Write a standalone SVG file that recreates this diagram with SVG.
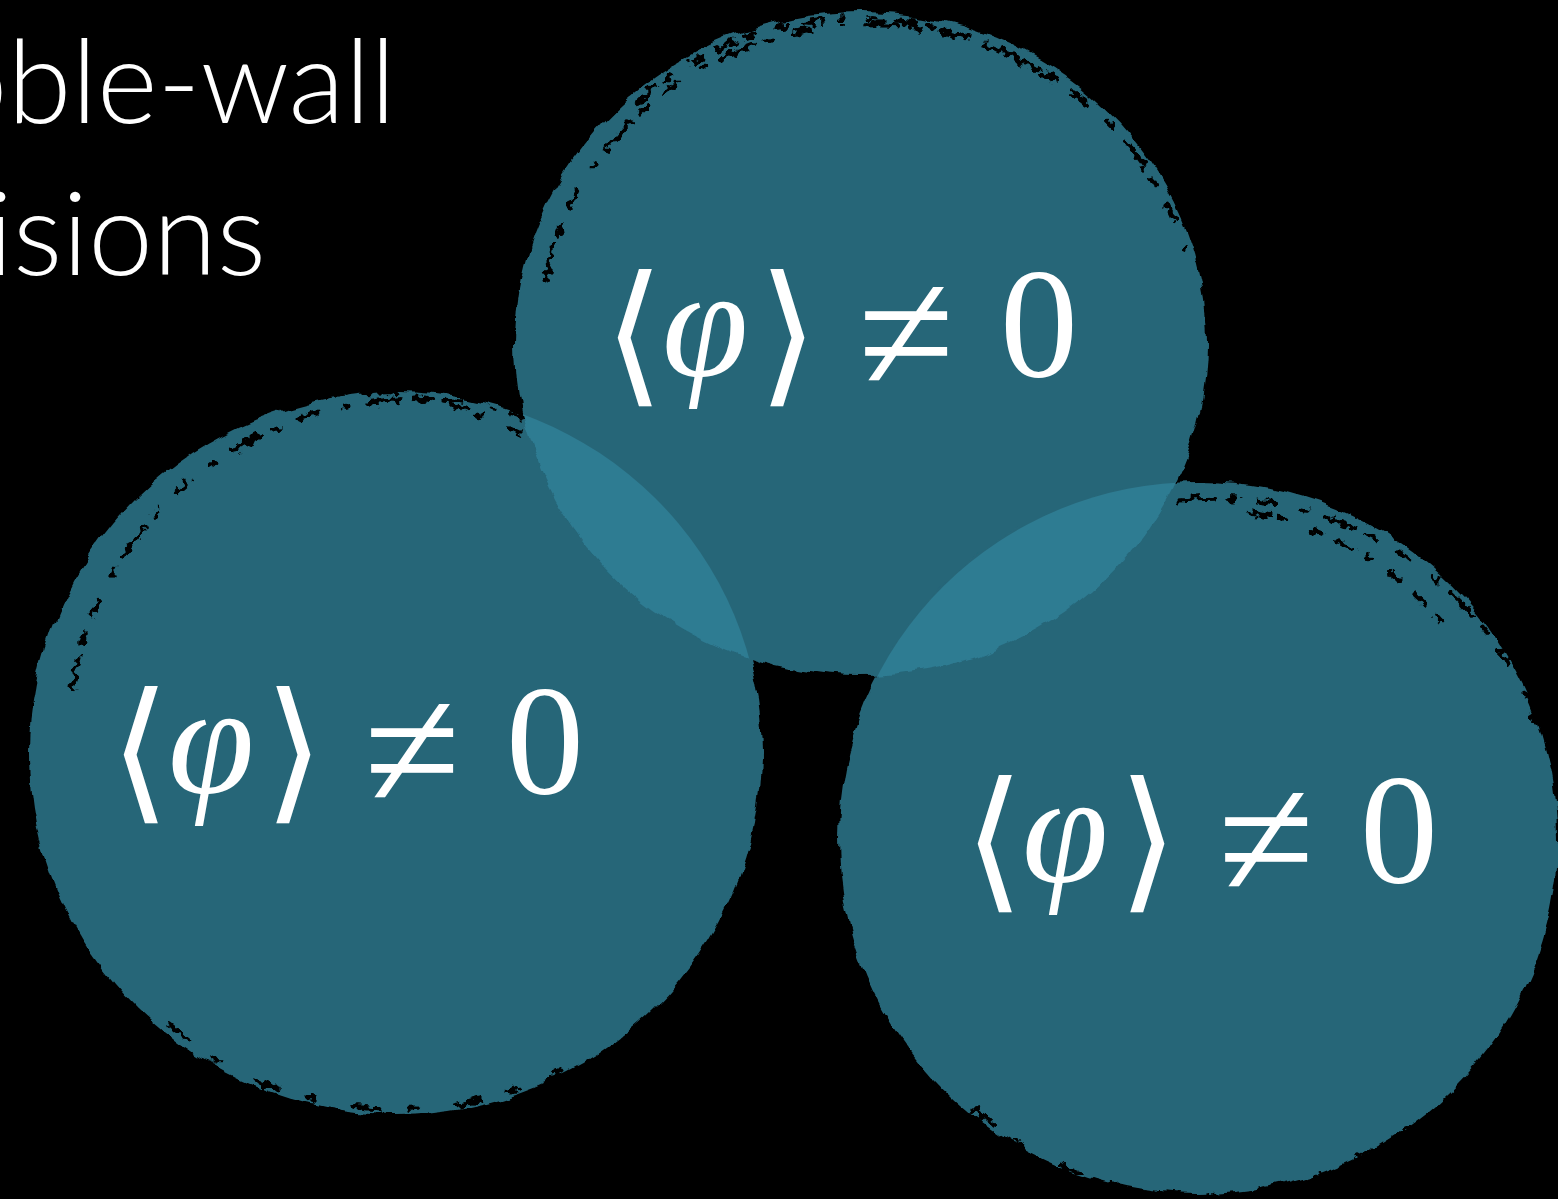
<svg xmlns="http://www.w3.org/2000/svg" width="1558" height="1199" viewBox="0 0 1558 1199">
  <style>
    .bubble { fill: #286678; }
    .lens { fill: #2e7b92; }
    .streak { fill: none; stroke: #000; stroke-width: 5; stroke-linecap: round; }
    .eq { font-family: "Liberation Serif", "DejaVu Serif", serif; font-size: 156px; fill: #ffffff; }
    .br { font-family: "DejaVu Serif", "DejaVu Sans", "Liberation Serif", serif; font-size: 154px; }
    .ne { font-size: 176px; }
    .phi { font-style: italic; }
    .title { font-family: Lato, "Open Sans", "Liberation Sans", sans-serif; font-weight: 300; font-size: 116px; fill: #ffffff; }
  </style>
  <defs>
    <filter id="rough" x="-10%" y="-10%" width="120%" height="120%">
      <feTurbulence type="fractalNoise" baseFrequency="0.035" numOctaves="3" seed="4" result="n"/>
      <feDisplacementMap in="SourceGraphic" in2="n" scale="12" xChannelSelector="R" yChannelSelector="G"/>
    </filter>
    <filter id="rough2" x="-10%" y="-10%" width="120%" height="120%">
      <feTurbulence type="fractalNoise" baseFrequency="0.12" numOctaves="2" seed="9" result="n"/>
      <feDisplacementMap in="SourceGraphic" in2="n" scale="14" xChannelSelector="R" yChannelSelector="G"/>
    </filter>
    <clipPath id="clipLeft"><ellipse cx="396" cy="753" rx="366" ry="361"/></clipPath>
    <clipPath id="clipRight"><ellipse cx="1198" cy="838" rx="360" ry="356"/></clipPath>
  </defs>
  <rect x="0" y="0" width="1558" height="1199" fill="#000000"/>

  <g id="title">
    <text class="title" x="396" y="123" text-anchor="end">bble-wall</text>
    <text class="title" x="266" y="275" text-anchor="end">isions</text>
  </g>

  <g id="bubble-left">
    <ellipse class="bubble" cx="396" cy="753" rx="366" ry="361" filter="url(#rough)"/>
    <path class="streak" filter="url(#rough2)" stroke-dasharray="34 14 8 22 16 30 5 18" d="M 72 690 A 348 344 0 0 1 560 430"/>
    <path class="streak" filter="url(#rough2)" stroke-dasharray="18 10 6 28 12 16" d="M 190 420 A 345 341 0 0 1 520 418" transform="translate(0,14)"/>
    <path class="streak" filter="url(#rough2)" stroke-dasharray="24 30 8 40" d="M 170 1025 A 348 344 0 0 0 560 1070"/>
  </g>

  <g id="bubble-top">
    <ellipse class="bubble" cx="861" cy="344" rx="346" ry="332" filter="url(#rough)"/>
    <path class="streak" filter="url(#rough2)" stroke-dasharray="34 14 8 22 16 30 5 18" d="M 545 280 A 330 316 0 0 1 1185 250"/>
    <path class="streak" filter="url(#rough2)" stroke-dasharray="20 12 6 26 10 18" d="M 640 100 A 320 306 0 0 1 1050 80"/>
  </g>

  <g id="bubble-right">
    <ellipse class="bubble" cx="1198" cy="838" rx="360" ry="356" filter="url(#rough)"/>
    <path class="streak" filter="url(#rough2)" stroke-dasharray="34 14 8 22 16 30 5 18" d="M 1180 500 A 342 338 0 0 1 1535 720"/>
    <path class="streak" filter="url(#rough2)" stroke-dasharray="20 12 6 26 10 18" d="M 1250 512 A 330 326 0 0 1 1440 620"/>
    <path class="streak" filter="url(#rough2)" stroke-dasharray="24 30 8 40" d="M 975 1110 A 342 338 0 0 0 1420 1120"/>
  </g>

  <g id="overlaps">
    <ellipse class="lens" cx="861" cy="344" rx="346" ry="332" clip-path="url(#clipLeft)" filter="url(#rough)"/>
    <ellipse class="lens" cx="861" cy="344" rx="346" ry="332" clip-path="url(#clipRight)" filter="url(#rough)"/>
  </g>

  <g id="label-top" class="eq">
    <text class="br" x="604" y="386">⟨</text>
    <text class="phi" x="662" y="376">φ</text>
    <text class="br" x="758" y="386">⟩</text>
    <text class="ne" x="858" y="392">≠</text>
    <text x="1000" y="376">0</text>
  </g>
  <g id="label-left" class="eq" transform="translate(-494,417)">
    <text class="br" x="604" y="386">⟨</text>
    <text class="phi" x="662" y="376">φ</text>
    <text class="br" x="758" y="386">⟩</text>
    <text class="ne" x="858" y="392">≠</text>
    <text x="1000" y="376">0</text>
  </g>
  <g id="label-right" class="eq" transform="translate(360,506)">
    <text class="br" x="604" y="386">⟨</text>
    <text class="phi" x="662" y="376">φ</text>
    <text class="br" x="758" y="386">⟩</text>
    <text class="ne" x="858" y="392">≠</text>
    <text x="1000" y="376">0</text>
  </g>
</svg>
